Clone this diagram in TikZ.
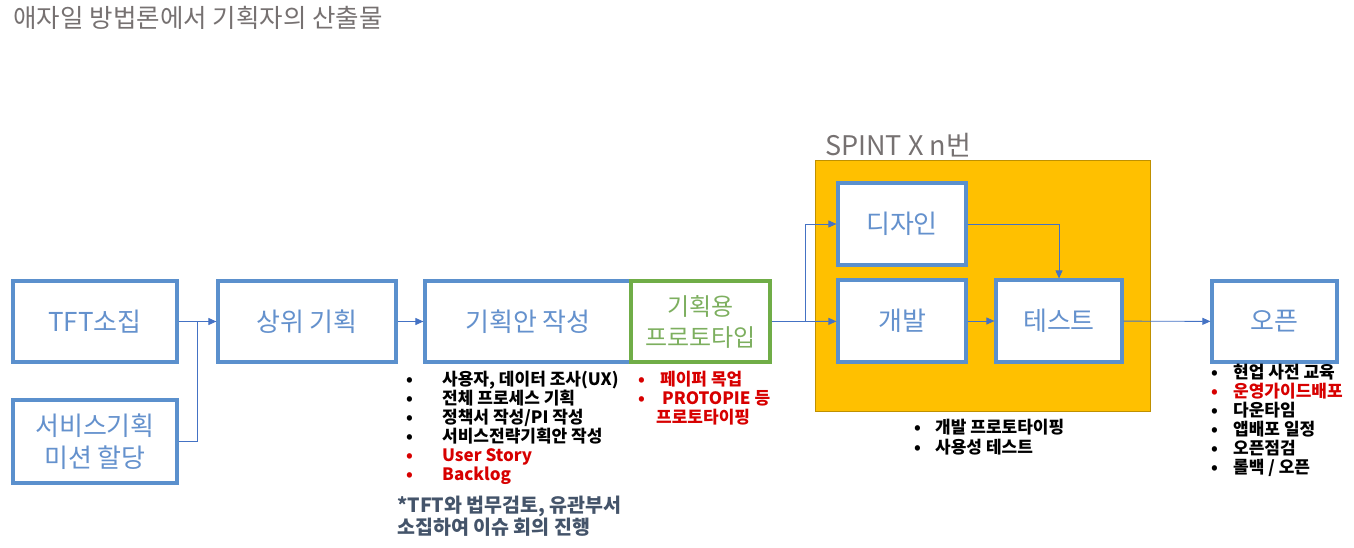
\documentclass[tikz,border=0pt]{standalone}
\usepackage{fontspec}
\usepackage{tikz}
\usepackage{xcolor}
\usetikzlibrary{arrows.meta,positioning}
\setmainfont{Noto Sans CJK KR}
\definecolor{boxblue}{RGB}{91,144,205}
\definecolor{txtblue}{RGB}{100,145,205}
\definecolor{boxgreen}{RGB}{112,173,71}
\definecolor{txtgreen}{RGB}{125,175,95}
\definecolor{sprintfill}{RGB}{255,192,0}
\definecolor{sprintline}{RGB}{191,144,0}
\definecolor{linkblue}{RGB}{68,114,196}
\definecolor{titlegray}{RGB}{118,113,113}
\definecolor{notegray}{RGB}{68,84,106}
\definecolor{itemred}{RGB}{215,0,0}
\newcommand{\bul}[1]{\makebox[#1][l]{•}}

\begin{document}
\begin{tikzpicture}[
      x=1pt,y=-1pt,
      box/.style={rectangle,draw=boxblue,line width=3.2pt,fill=white,text=txtblue,minimum height=81pt,align=center,font=\fontsize{26}{32}\selectfont},
      protobox/.style={box,draw=boxgreen,text=txtgreen,fill=none,font=\fontsize{24}{31}\selectfont},
      sprint/.style={rectangle,draw=sprintline,line width=0.8pt,fill=sprintfill,inner sep=0pt},
      items/.style={anchor=north west,inner sep=0pt,align=left,font=\bfseries\fontsize{17}{19}\selectfont},
      link/.style={draw=linkblue,line width=0.9pt},
      arrow/.style={link,-{Triangle[length=8pt,width=7pt]}}
    ]
    \useasboundingbox (0,0) rectangle (1354,547);
    \node[anchor=west,text=titlegray,font=\fontsize{25.5}{30}\selectfont] (title) at (10,18) {애자일 방법론에서 기획자의 산출물};
    \node[box,minimum width=164pt] (tft) at (95,321.5) {TFT소집};
    \node[box,minimum width=164pt,minimum height=83pt] (mission) at (95,441.5) {서비스기획\\미션 할당};
    \node[box,minimum width=178pt] (upper) at (307,321.5) {상위 기획};
    \node[box,minimum width=206pt] (plan) at (528,321.5) {기획안 작성};
    \node[protobox,minimum width=139pt] (proto) at (700.5,321.5) {기획용\\프로토타입};
    \node[sprint,minimum width=335pt,minimum height=251pt] (sprintarea) at (982.5,285.5) {};
    \node[anchor=base west,text=titlegray,inner sep=0pt,font=\fontsize{27}{30}\selectfont] (sprintlabel) at (825,155) {SPINT X n번};
    \node[box,minimum width=128pt,minimum height=82pt] (design) at (902,224) {디자인};
    \node[box,minimum width=128pt,minimum height=82pt] (dev) at (902,321) {개발};
    \node[box,minimum width=126pt,minimum height=82pt] (test) at (1059,321) {테스트};
    \node[box,minimum width=125pt] (open) at (1274.5,321.5) {오픈};
    \coordinate (join) at (197,321.5);
    \coordinate (split) at (805,321.5);
    \draw[arrow] (tft) -- (upper);
    \draw[link] (mission) -| (join);
    \draw[arrow] (upper) -- (plan);
    \draw[link] (proto) -- (split);
    \draw[arrow] (split) |- (design);
    \draw[arrow] (split) -- (dev);
    \draw[arrow] (design) -| (test);
    \draw[arrow] (dev) -- (test);
    \draw[arrow] (test) -- (open);
    \node[items] (planitems) at (406,371) {\bul{36pt}사용자, 데이터 조사(UX)\\\bul{36pt}전체 프로세스 기획\\\bul{36pt}정책서 작성/PI 작성\\\bul{36pt}서비스전략기획안 작성\\\textcolor{itemred}{\bul{36pt}User Story}\\\textcolor{itemred}{\bul{36pt}Backlog}};
    \node[items,text=notegray,font=\bfseries\fontsize{19.5}{22}\selectfont] (note) at (397,496) {*TFT와 법무검토, 유관부서\\소집하여 이슈 회의 진행};
    \node[items,text=itemred] (protoitems) at (638,371) {\bul{22pt}페이퍼 목업\\\bul{20pt} PROTOPIE 등\\\hspace*{18pt}프로토타이핑};
    \node[items,font=\bfseries\fontsize{17}{20}\selectfont] (sprintitems) at (914,419) {\bul{21pt}개발 프로토타이핑\\\bul{21pt}사용성 테스트};
    \node[items] (openitems) at (1211,364) {\bul{22pt}현업 사전 교육\\\textcolor{itemred}{\bul{22pt}운영가이드배포}\\\bul{22pt}다운타임\\\bul{22pt}앱배포 일정\\\bul{22pt}오픈점검\\\bul{22pt}롤백 / 오픈};
  \end{tikzpicture}
\end{document}
